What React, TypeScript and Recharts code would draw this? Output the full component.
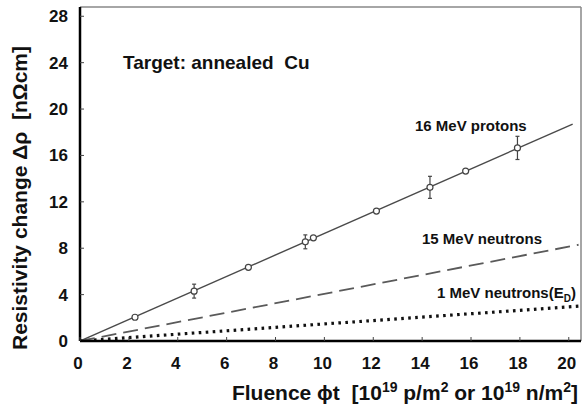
import { ComposedChart, Line, Scatter, ErrorBar, XAxis, YAxis, ReferenceLine, Label } from 'recharts';

const FLUENCE_TICKS = [0, 2, 4, 6, 8, 10, 12, 14, 16, 18, 20];
const RHO_TICKS = [0, 4, 8, 12, 16, 20, 24, 28];

// 16 MeV protons: straight line plus the measured points
const PROTON_FIT_X = [0, 20.16];
const PROTON_FIT_Y = [0, 18.7];
const PROTON_X = [2.25, 4.67, 6.89, 9.22, 9.55, 12.13, 14.32, 15.78, 17.9];
const PROTON_Y = [2.05, 4.3, 6.35, 8.55, 8.9, 11.2, 13.25, 14.65, 16.65];
const PROTON_ERR_X = [4.67, 9.22, 14.32, 17.9];
const PROTON_ERR_Y = [4.3, 8.55, 13.25, 16.65];
const PROTON_ERR = [0.6, 0.6, 0.95, 1.0];

// 15 MeV neutrons (dashed) and 1 MeV neutrons (dotted)
const N15_X = [0, 20.4];
const N15_Y = [0, 8.3];
const N1_X = [0, 20.4];
const N1_Y = [0, 3.0];

const toRows = (xs: number[], ys: number[], errs?: number[]) =>
  xs.map((x, i) => ({ x, rho: ys[i], err: errs ? errs[i] : 0 }));

const protonFit = toRows(PROTON_FIT_X, PROTON_FIT_Y);
const protonPts = toRows(PROTON_X, PROTON_Y);
const protonBars = toRows(PROTON_ERR_X, PROTON_ERR_Y, PROTON_ERR);
const n15 = toRows(N15_X, N15_Y);
const n1 = toRows(N1_X, N1_Y);

const FONT = "Arial, 'Liberation Sans', sans-serif";
const INK = '#111';

const XTick = ({ x, y, payload }: any) => (
  <g>
    <line x1={x} x2={x} y1={y} y2={y - 4} stroke="#444" strokeWidth={1} />
    <text x={x - 2} y={y + 28} textAnchor="middle" fontSize={17} fontWeight="bold" fontFamily={FONT} fill={INK}>
      {payload.value}
    </text>
  </g>
);

const YTick = ({ x, y, payload }: any) => (
  <g>
    {payload.value !== 0 && <line x1={x} x2={x + 4} y1={y} y2={y} stroke="#444" strokeWidth={1} />}
    <text x={x - 12} y={y + 6} textAnchor="end" fontSize={17} fontWeight="bold" fontFamily={FONT} fill={INK}>
      {payload.value}
    </text>
  </g>
);

const XTitle = ({ viewBox }: any) => {
  const { x, y, width } = viewBox;
  return (
    <text x={x + width - 3} y={y + 59} textAnchor="end" fontSize={21} fontWeight="bold" fontFamily={FONT} fill={INK} xmlSpace="preserve">
      <tspan>Fluence ϕt  [10</tspan>
      <tspan fontSize={14} dy={-8}>19</tspan>
      <tspan dy={8}> p/m</tspan>
      <tspan fontSize={14} dy={-8}>2</tspan>
      <tspan dy={8}> or 10</tspan>
      <tspan fontSize={14} dy={-8}>19</tspan>
      <tspan dy={8}> n/m</tspan>
      <tspan fontSize={14} dy={-8}>2</tspan>
      <tspan dy={8}>]</tspan>
    </text>
  );
};

const YTitle = ({ viewBox }: any) => {
  const cx = viewBox.x + 27;
  const cy = viewBox.y + 191;
  return (
    <text x={cx} y={cy} transform={`rotate(-90, ${cx}, ${cy})`} textAnchor="middle" fontSize={21} fontWeight="bold" fontFamily={FONT} fill={INK} xmlSpace="preserve">
      Resistivity change Δρ  [nΩcm]
    </text>
  );
};

const OpenCircle = ({ cx, cy }: any) => (
  <circle cx={cx} cy={cy} r={3} fill="#fff" stroke="#444" strokeWidth={1.2} />
);

const note = (left: number, top: number, size: number): React.CSSProperties => ({
  position: 'absolute',
  left,
  top,
  fontSize: size,
  lineHeight: 1,
  fontWeight: 'bold',
  fontFamily: FONT,
  color: INK,
  whiteSpace: 'pre',
});

export default function App() {
  return (
    <div style={{ position: 'absolute', left: 0, top: 0, width: 582, height: 414, background: '#fff' }}>
      <ComposedChart width={582} height={414} margin={{ top: 7, right: 1, bottom: 0, left: 0 }}>
        <XAxis
          type="number"
          dataKey="x"
          domain={[0, 20.5]}
          ticks={FLUENCE_TICKS}
          allowDataOverflow
          height={73}
          tickSize={0}
          tickMargin={0}
          tick={<XTick />}
          axisLine={{ stroke: '#000', strokeWidth: 2.5 }}
        >
          <Label content={<XTitle />} />
        </XAxis>
        <YAxis
          type="number"
          dataKey="rho"
          domain={[0, 28.8]}
          ticks={RHO_TICKS}
          allowDataOverflow
          width={80}
          tickSize={0}
          tickMargin={0}
          tick={<YTick />}
          axisLine={{ stroke: '#000', strokeWidth: 2.5 }}
        >
          <Label content={<YTitle />} />
        </YAxis>
        <ReferenceLine y={28.8} stroke="#888" strokeWidth={1.5} />
        <ReferenceLine x={20.5} stroke="#888" strokeWidth={1.5} />

        <Line data={n1} dataKey="rho" stroke="#111" strokeWidth={3.2} strokeDasharray="2.6 4.4" dot={false} isAnimationActive={false} />
        <Line data={n15} dataKey="rho" stroke="#5a5a5a" strokeWidth={1.8} strokeDasharray="15 7" dot={false} isAnimationActive={false} />
        <Line data={protonFit} dataKey="rho" stroke="#4a4a4a" strokeWidth={1.4} dot={false} isAnimationActive={false} />
        <Scatter data={protonBars} dataKey="rho" shape={() => <g />} isAnimationActive={false}>
          <ErrorBar dataKey="err" direction="y" width={2} stroke="#444" strokeWidth={1.2} />
        </Scatter>
        <Scatter data={protonPts} dataKey="rho" shape={<OpenCircle />} isAnimationActive={false} />
      </ComposedChart>

      <div style={note(123, 53, 19)}>Target: annealed  Cu</div>
      <div style={note(415, 118, 15)}>16 MeV protons</div>
      <div style={note(422, 231, 15)}>15 MeV neutrons</div>
      <div style={note(437, 285, 15)}>
        1 MeV neutrons(E<sub style={{ fontSize: 10 }}>D</sub>)
      </div>
    </div>
  );
}
